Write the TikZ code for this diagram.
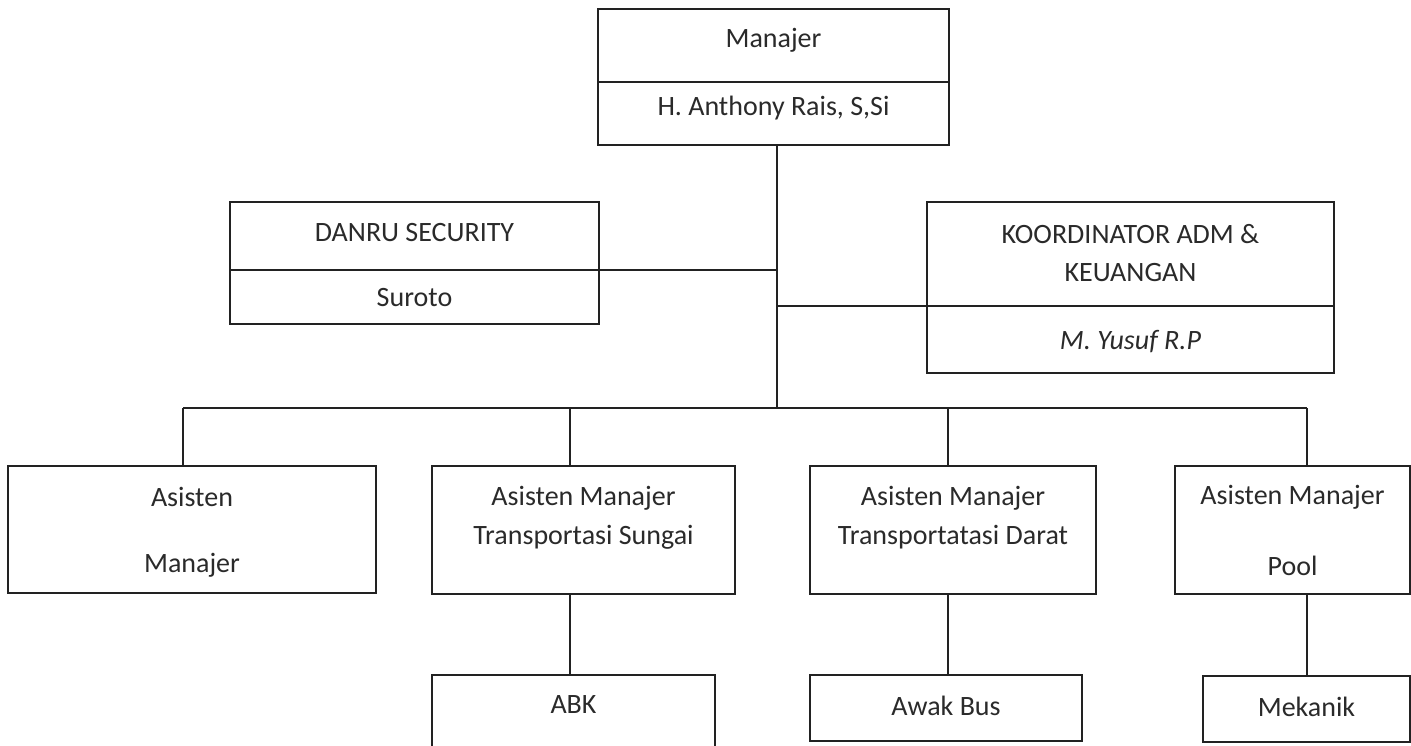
\documentclass[tikz,border=0pt]{standalone}
\usepackage{fontspec}
\setmainfont{Carlito}
\usetikzlibrary{fit}
\definecolor{ink}{HTML}{222222}
\definecolor{txt}{HTML}{2A2A2A}
\tikzset{
  orgbox/.style={draw=ink, line width=1.7pt, inner sep=0pt, outer sep=0pt},
  lbl/.style={text=txt, font=\fontsize{28}{30}\selectfont, inner sep=0pt, anchor=center},
  conn/.style={draw=ink, line width=1.7pt}
}
\begin{document}
\begin{tikzpicture}[x=1pt,y=-1pt]
\useasboundingbox (0,0) rectangle (1411,745);
\clip (0,0) rectangle (1411,745);
% boxes
\node[orgbox, fit={(598,9) (949,82)}] (manT) {};
\node[orgbox, fit={(598,82) (949,145)}] (manB) {};
\node[orgbox, fit={(230,202) (599,270)}] (danT) {};
\node[orgbox, fit={(230,270) (599,324)}] (danB) {};
\node[orgbox, fit={(927,202) (1334,306)}] (korT) {};
\node[orgbox, fit={(927,306) (1334,373)}] (korB) {};
\node[orgbox, fit={(8,466) (376,593)}] (asis) {};
\node[orgbox, fit={(432,466) (735,594)}] (sung) {};
\node[orgbox, fit={(810,466) (1096,594)}] (darat) {};
\node[orgbox, fit={(1175,466) (1410,594)}] (pool) {};
\node[orgbox, fit={(432,675) (715,765)}] (abk) {};
\node[orgbox, fit={(810,675) (1082,741)}] (awak) {};
\node[orgbox, fit={(1203,676) (1410,742)}] (mek) {};
% texts
\node[lbl] (tman) at (773.5,40) {Manajer};
\node[lbl] (tmanB) at (773.5,108) {H. Anthony Rais, S,Si};
\node[lbl] (tdan) at (414.5,233) {DANRU SECURITY};
\node[lbl] (tdanB) at (414.5,298) {Suroto};
\node[lbl] (tkor1) at (1130.5,234) {KOORDINATOR ADM \&};
\node[lbl] (tkor2) at (1130.5,273) {KEUANGAN};
\node[lbl, font=\fontsize{28}{30}\selectfont\itshape] (tkorB) at (1130.5,342) {M. Yusuf R.P};
\node[lbl] (tas1) at (192,497) {Asisten};
\node[lbl] (tas2) at (192,565) {Manajer};
\node[lbl] (tsu1) at (583.5,498) {Asisten Manajer};
\node[lbl] (tsu2) at (583.5,537) {Transportasi Sungai};
\node[lbl] (tda1) at (953,498) {Asisten Manajer};
\node[lbl] (tda2) at (953,537) {Transportatasi Darat};
\node[lbl] (tpo1) at (1292.5,497) {Asisten Manajer};
\node[lbl] (tpo2) at (1292.5,566) {Pool};
\node[lbl] (tabk) at (573.5,705) {ABK};
\node[lbl] (tawak) at (946,706) {Awak Bus};
\node[lbl] (tmek) at (1306.5,707) {Mekanik};
% connector points
\coordinate (bus) at (777,408);
\coordinate (d1) at (183,408);
\coordinate (d2) at (570,408);
\coordinate (d3) at (948,408);
\coordinate (d4) at (1307,408);
% connectors
\draw[conn] (bus |- manB.south) -- (bus);
\draw[conn] (danT.south east) -- (danT.south east -| bus);
\draw[conn] (korT.south west -| bus) -- (korT.south west);
\draw[conn] (d1) -- (d4);
\draw[conn] (d1) -- (d1 |- asis.north);
\draw[conn] (d2) -- (d2 |- sung.north);
\draw[conn] (d3) -- (d3 |- darat.north);
\draw[conn] (d4) -- (d4 |- pool.north);
\draw[conn] (d2 |- sung.south) -- (d2 |- abk.north);
\draw[conn] (d3 |- darat.south) -- (d3 |- awak.north);
\draw[conn] (d4 |- pool.south) -- (d4 |- mek.north);
\end{tikzpicture}
\end{document}
